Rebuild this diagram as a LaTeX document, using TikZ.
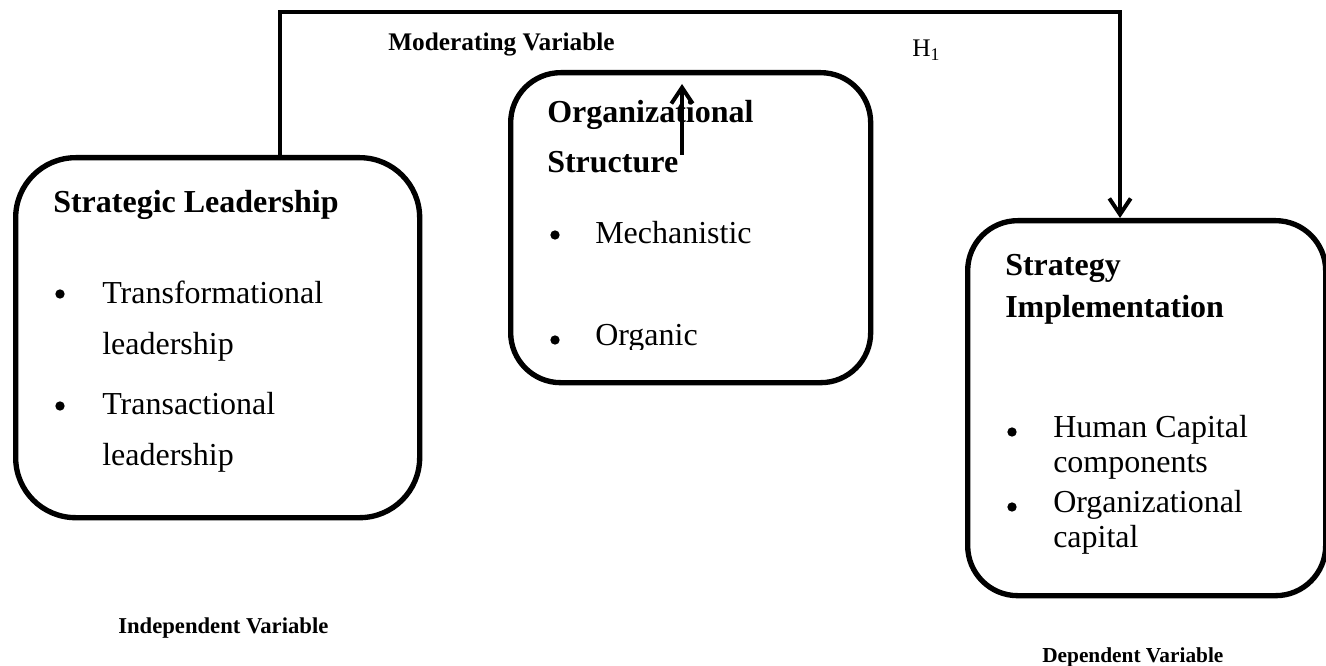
\documentclass[tikz,border=0pt]{standalone}
\usepackage{fontspec}
\setmainfont{Liberation Serif}
\usetikzlibrary{arrows.meta}

\begin{document}
\begin{tikzpicture}[x=0.75pt, y=-0.75pt,
	kasten/.style={draw=black, line width=4pt, rounded corners=37.5pt,
		anchor=north west, inner sep=0pt},
	titel/.style={anchor=west, inner sep=0pt,
		font=\fontsize{24}{28}\selectfont\bfseries},
	eintrag/.style={anchor=west, inner sep=0pt,
		font=\fontsize{24}{28}\selectfont},
	punkt/.style={circle, fill=black, inner sep=0pt, minimum size=7pt},
	hinweis/.style={anchor=west, inner sep=0pt},
	pfeil/.style={line width=3pt,
		-{Straight Barb[length=12pt, width=16pt, line width=3pt]}}]
	\useasboundingbox (0,0) rectangle (1326,666);

	% Kaesten
	\node[kasten, rounded corners=45pt, minimum width=303pt,
	minimum height=270pt] (fuehrung) at (13,155) {};
	\node[kasten, minimum width=270pt, minimum height=232.5pt] (struktur)
	at (508,70) {};
	\node[kasten, minimum width=268.5pt, minimum height=281.25pt] (umsetzung)
	at (965,218) {};

	% Strategic Leadership
	\node[titel] (fuehrung-titel) at (53,205) {Strategic Leadership};
	\foreach \y/\wort in {292/Transformational, 347/leadership,
		404/Transactional, 458/leadership}
		\node[eintrag] (fuehrung-\y) at (102,\y) {\wort};
	\foreach \y in {292,404}
		\node[punkt] (fuehrung-punkt-\y) at (60,\y+2) {};

	% Organizational Structure
	\node[titel] (struktur-titel-a) at (547,115) {Organizational};
	\node[titel] (struktur-titel-b) at (547,162) {Structure};
	\node[eintrag] (struktur-233) at (595,233) {Mechanistic};
	\begin{scope}
		\clip (508,300) rectangle (868,349);
		\node[eintrag] (struktur-340) at (595,338) {Organic};
	\end{scope}
	\foreach \y in {233,338}
		\node[punkt] (struktur-punkt-\y) at (555,\y+2) {};

	% Strategy Implementation
	\node[titel] (umsetzung-titel-a) at (1005,268) {Strategy};
	\node[titel] (umsetzung-titel-b) at (1005,310) {Implementation};
	\foreach \y/\wort in {430/Human Capital, 467/components,
		505/Organizational, 540/capital}
		\node[eintrag] (umsetzung-\y) at (1053,\y) {\wort};
	\foreach \y in {430,505}
		\node[punkt] (umsetzung-punkt-\y) at (1012,\y+2) {};

	% Verbindung oben
	\coordinate (knick-links) at (280,12);
	\coordinate (knick-rechts) at (1120,12);
	\draw[pfeil] (fuehrung.north -| knick-links) -- (knick-links)
		-- (knick-rechts) -- (umsetzung.north -| knick-rechts);
	\coordinate (pfeil-fuss) at (682,155);
	\coordinate (pfeil-spitze) at (682,84);
	\draw[pfeil, line width=2.5pt] (pfeil-fuss) -- (pfeil-spitze);

	% Beschriftungen
	\node[hinweis, font=\fontsize{19}{22}\selectfont\bfseries] (moderator)
	at (388,45) {Moderating Variable};
	\node[hinweis, font=\fontsize{19}{22}\selectfont] (hypothese)
	at (912,50) {H\textsubscript{1}};
	\node[hinweis, font=\fontsize{17}{20}\selectfont\bfseries] (unabhaengig)
	at (118,628) {Independent Variable};
	\node[hinweis, font=\fontsize{16}{19}\selectfont\bfseries] (abhaengig)
	at (1042,657) {Dependent Variable};
\end{tikzpicture}
\end{document}
